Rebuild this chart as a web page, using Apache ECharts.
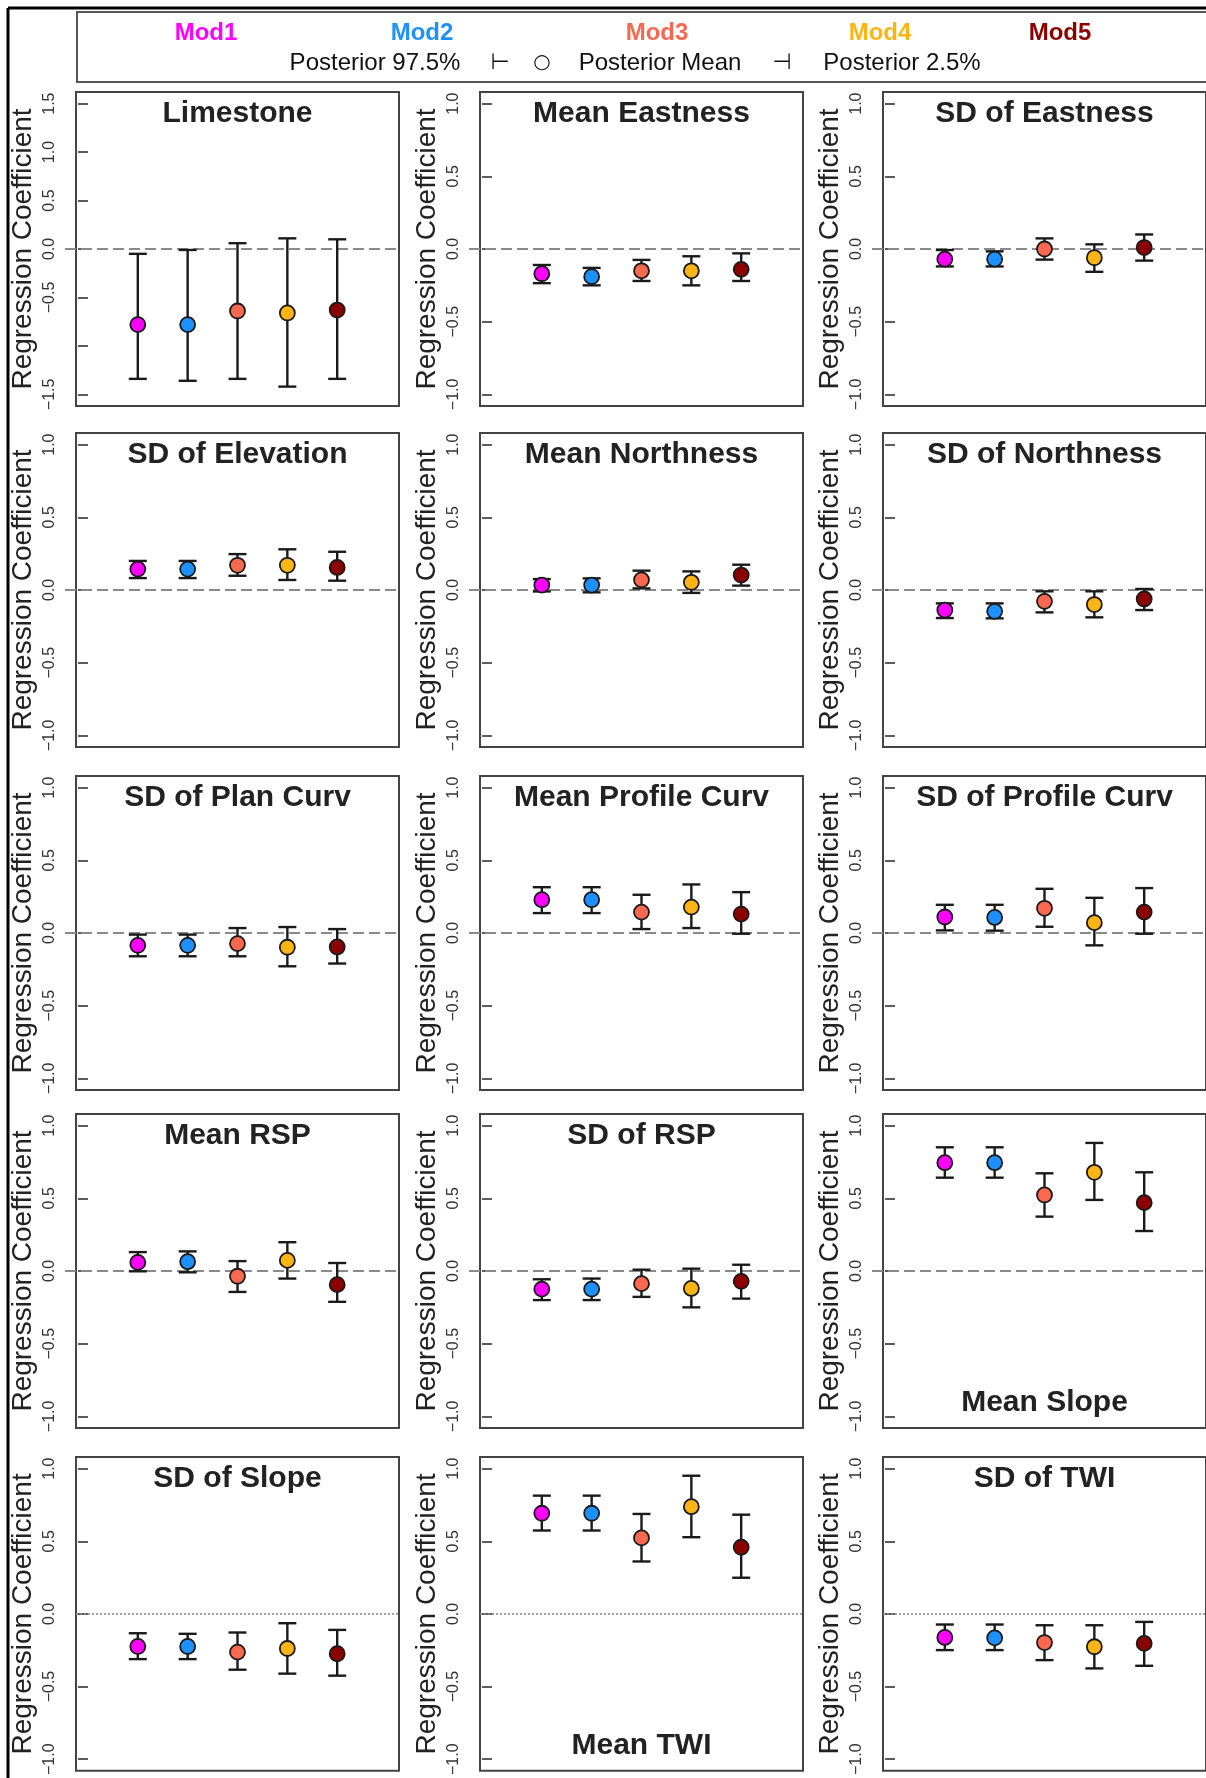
<!DOCTYPE html>
<html>
<head>
<meta charset="utf-8">
<script src="https://cdn.jsdelivr.net/npm/echarts@6/dist/echarts.min.js"></script>
<style>
html,body{margin:0;padding:0;background:#fff;}
#chart{width:1206px;height:1778px;}
</style>
</head>
<body>
<div id="chart"></div>
<script>
// ---------------- DATA ----------------
const models = ['Mod1', 'Mod2', 'Mod3', 'Mod4', 'Mod5'];
const modelX = [1, 2, 3, 4, 5];
const panelTitles = ['Limestone', 'Mean Eastness', 'SD of Eastness',
  'SD of Elevation', 'Mean Northness', 'SD of Northness',
  'SD of Plan Curv', 'Mean Profile Curv', 'SD of Profile Curv',
  'Mean RSP', 'SD of RSP', 'Mean Slope',
  'SD of Slope', 'Mean TWI', 'SD of TWI'];
const yTicks = [-1, -0.5, 0, 0.5, 1];
const yTicksLimestone = [-1.5, -1, -0.5, 0, 0.5, 1, 1.5];
const yLabelsLimestone = [-1.5, -0.5, 0, 0.5, 1, 1.5];
const legendTexts = ['Posterior 97.5%', '\u22A2', '\u25CB', 'Posterior Mean', '\u22A3', 'Posterior 2.5%'];
const yAxisTitle = 'Regression Coefficient';

// Posterior 97.5% (upper), mean, 2.5% (lower) for each panel, models 1..5
const post975 = [
  [-0.05, -0.01, 0.06, 0.11, 0.10],
  [-0.11, -0.13, -0.075, -0.05, -0.03],
  [-0.007, -0.016, 0.073, 0.032, 0.10],
  [0.20, 0.20, 0.247, 0.28, 0.263],
  [0.075, 0.08, 0.133, 0.128, 0.174],
  [-0.092, -0.092, -0.009, -0.009, 0.007],
  [-0.011, -0.011, 0.034, 0.041, 0.027],
  [0.315, 0.315, 0.263, 0.334, 0.281],
  [0.194, 0.194, 0.304, 0.242, 0.309],
  [0.13, 0.135, 0.068, 0.198, 0.055],
  [-0.057, -0.052, 0.009, 0.016, 0.043],
  [0.851, 0.851, 0.672, 0.881, 0.679],
  [-0.133, -0.137, -0.128, -0.064, -0.11],
  [0.814, 0.814, 0.688, 0.951, 0.683],
  [-0.073, -0.073, -0.078, -0.078, -0.055]
];
const postMean = [
  [-0.78, -0.78, -0.64, -0.66, -0.63],
  [-0.17, -0.19, -0.15, -0.15, -0.14],
  [-0.07, -0.07, 0.0, -0.06, 0.01],
  [0.144, 0.144, 0.17, 0.17, 0.155],
  [0.034, 0.034, 0.07, 0.053, 0.103],
  [-0.138, -0.147, -0.078, -0.10, -0.062],
  [-0.085, -0.085, -0.073, -0.098, -0.096],
  [0.229, 0.229, 0.144, 0.178, 0.13],
  [0.11, 0.107, 0.17, 0.071, 0.144],
  [0.059, 0.064, -0.036, 0.073, -0.094],
  [-0.125, -0.125, -0.087, -0.12, -0.071],
  [0.745, 0.745, 0.523, 0.679, 0.47],
  [-0.224, -0.224, -0.263, -0.238, -0.274],
  [0.693, 0.693, 0.523, 0.738, 0.459],
  [-0.162, -0.165, -0.197, -0.226, -0.203]
];
const post025 = [
  [-1.34, -1.36, -1.34, -1.42, -1.34],
  [-0.235, -0.25, -0.22, -0.25, -0.22],
  [-0.12, -0.12, -0.073, -0.157, -0.08],
  [0.082, 0.082, 0.098, 0.069, 0.064],
  [-0.01, -0.016, 0.011, -0.02, 0.03],
  [-0.193, -0.195, -0.154, -0.188, -0.138],
  [-0.16, -0.16, -0.16, -0.229, -0.21],
  [0.137, 0.137, 0.027, 0.034, -0.005],
  [0.018, 0.016, 0.043, -0.085, -0.005],
  [-0.002, -0.009, -0.144, -0.052, -0.212],
  [-0.2, -0.2, -0.178, -0.25, -0.19],
  [0.642, 0.642, 0.374, 0.489, 0.275],
  [-0.311, -0.311, -0.384, -0.411, -0.425],
  [0.574, 0.574, 0.361, 0.528, 0.249],
  [-0.249, -0.249, -0.318, -0.375, -0.357]
];

// ---------------- STYLE / LAYOUT ----------------
const modelColors = ['#FF00FF', '#1E90FF', '#F8694F', '#FDB515', '#8B0000'];
const FONT = '"Liberation Sans", Arial, Helvetica, sans-serif';
const colLeft = [76, 480, 883];
const rowTop = [92, 433, 776, 1114, 1457];
const boxW = 323, boxH = 314;
const bottomTitlePanels = [11, 13];
const dottedZeroPanels = [12, 13, 14];

function fmt(v) {
  const s = Math.abs(v).toFixed(1);
  return (v < -1e-9 ? '\u2212' : '') + s;
}

const grids = [], xAxes = [], yAxes = [], series = [], graphics = [];

panelTitles.forEach((title, i) => {
  const r = Math.floor(i / 3), c = i % 3;
  const left = colLeft[c], top = rowTop[r];
  const isLime = i === 0;
  const ext = isLime ? 1.62 : 1.08;
  grids.push({
    left: left, top: top, width: boxW, height: boxH,
    show: true, borderColor: '#444', borderWidth: 2, backgroundColor: 'transparent'
  });
  xAxes.push({ gridIndex: i, type: 'value', min: -0.24, max: 6.24, show: false });
  yAxes.push({
    gridIndex: i, type: 'value', min: -ext, max: ext,
    splitLine: { show: false },
    axisLine: { show: false },
    axisTick: { show: true, length: 10, customValues: isLime ? yTicksLimestone : yTicks,
      lineStyle: { color: '#333', width: 1.6 } },
    axisLabel: { show: true, customValues: isLime ? yLabelsLimestone : yTicks,
      rotate: 90, margin: 18, fontSize: 16, color: '#333', fontFamily: FONT, formatter: fmt },
    name: yAxisTitle, nameLocation: 'middle', nameRotate: 90, nameGap: 39,
    nameTextStyle: { fontSize: 28, color: '#222', fontFamily: FONT }
  });
  const dotted = dottedZeroPanels.indexOf(i) >= 0;
  // zero reference line
  series.push({
    type: 'custom', xAxisIndex: i, yAxisIndex: i, silent: true, clip: false, z: 1,
    data: [[0, 0]],
    renderItem: function (params, api) {
      const p1 = api.coord([-0.24, api.value(1)]);
      const p2 = api.coord([6.24, api.value(1)]);
      return {
        type: 'line',
        shape: { x1: p1[0] - (dotted ? 0 : 11), y1: p1[1], x2: p2[0], y2: p2[1] },
        style: { stroke: '#8a8a8a', lineWidth: dotted ? 1.6 : 2.2,
          lineDash: dotted ? [2, 2] : [11, 5] }
      };
    }
  });
  // error bars
  series.push({
    type: 'custom', xAxisIndex: i, yAxisIndex: i, silent: true, z: 2,
    data: modelX.map((x, k) => [x, post025[i][k], post975[i][k]]),
    encode: { x: 0, y: [1, 2] },
    renderItem: function (params, api) {
      const x = api.value(0);
      const lo = api.coord([x, api.value(1)]);
      const hi = api.coord([x, api.value(2)]);
      const hw = 9;
      const st = { stroke: '#1a1a1a', lineWidth: 2.4 };
      return {
        type: 'group', children: [
          { type: 'line', shape: { x1: lo[0], y1: lo[1], x2: hi[0], y2: hi[1] }, style: st },
          { type: 'line', shape: { x1: hi[0] - hw, y1: hi[1], x2: hi[0] + hw, y2: hi[1] }, style: st },
          { type: 'line', shape: { x1: lo[0] - hw, y1: lo[1], x2: lo[0] + hw, y2: lo[1] }, style: st }
        ]
      };
    }
  });
  // posterior means
  series.push({
    type: 'scatter', xAxisIndex: i, yAxisIndex: i, silent: true, z: 3,
    symbol: 'circle', symbolSize: 15,
    data: modelX.map((x, k) => ({
      value: [x, postMean[i][k]],
      itemStyle: { color: modelColors[k], borderColor: '#1a1a1a', borderWidth: 1.8, opacity: 1 }
    }))
  });
  // panel title
  const atBottom = bottomTitlePanels.indexOf(i) >= 0;
  graphics.push({
    type: 'text', x: left + boxW / 2, y: atBottom ? top + boxH - 25 : top + 22, z: 10,
    style: { text: title, fill: '#222', font: 'bold 30px ' + FONT, align: 'center', verticalAlign: 'middle' }
  });
});

// figure border lines and legend box
graphics.push({ type: 'line', shape: { x1: 8, y1: 8, x2: 1206, y2: 8 }, style: { stroke: '#000', lineWidth: 3 } });
graphics.push({ type: 'line', shape: { x1: 8, y1: 8, x2: 8, y2: 1778 }, style: { stroke: '#000', lineWidth: 3 } });
graphics.push({ type: 'rect', shape: { x: 77, y: 12, width: 1150, height: 70 },
  style: { fill: 'none', stroke: '#555', lineWidth: 2 } });
const modX = [206, 422, 657, 880, 1060];
models.forEach((m, k) => {
  graphics.push({ type: 'text', x: modX[k], y: 33,
    style: { text: m, fill: modelColors[k], font: 'bold 24px ' + FONT, align: 'center', verticalAlign: 'middle' } });
});
const legX = [375, 500, 542, 660, 782, 902];
const legFont = ['24px ', '22px "DejaVu Sans", ', '20px "DejaVu Sans", ', '24px ', '22px "DejaVu Sans", ', '24px '];
legendTexts.forEach((t, k) => {
  graphics.push({ type: 'text', x: legX[k], y: 63,
    style: { text: t, fill: '#111', font: legFont[k] + FONT, align: 'center', verticalAlign: 'middle' } });
});

const chart = echarts.init(document.getElementById('chart'), null, { renderer: 'canvas' });
chart.setOption({
  animation: false,
  backgroundColor: '#fff',
  grid: grids,
  xAxis: xAxes,
  yAxis: yAxes,
  series: series,
  graphic: graphics
});
</script>
</body>
</html>
